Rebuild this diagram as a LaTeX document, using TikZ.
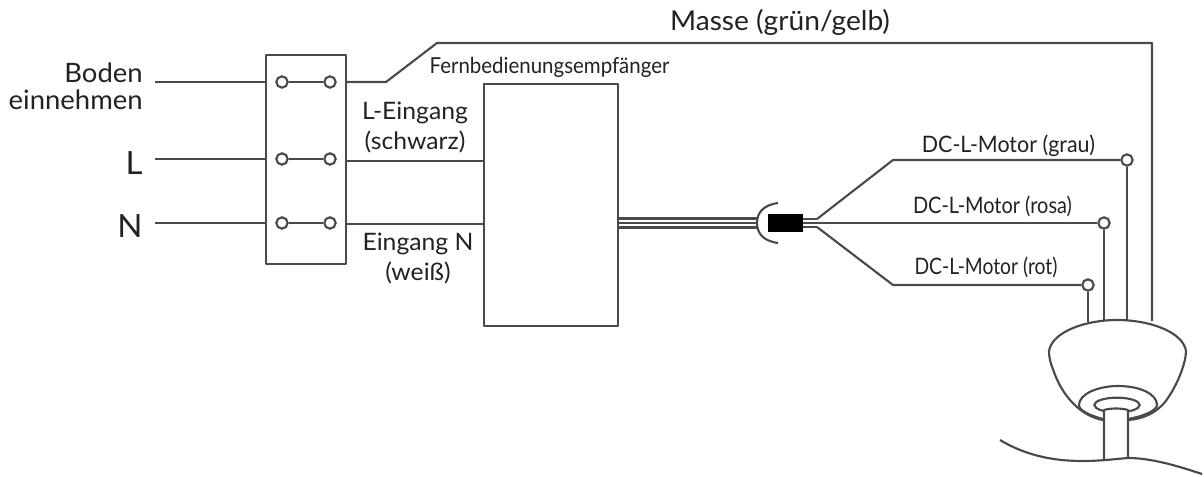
\documentclass[tikz,border=0pt]{standalone}
\usepackage{fontspec}
\usetikzlibrary{shapes.geometric}
\setmainfont{Lato}
\definecolor{wire}{HTML}{4A4A4A}
\definecolor{ink}{HTML}{222222}
\tikzset{
 wireline/.style={draw=wire,line width=1.6pt,line join=round},
 thin wire/.style={draw=wire,line width=1.7pt},
 term/.style={circle,draw=wire,line width=1.6pt,fill=white,minimum size=8.5pt,inner sep=0pt},
 lab/.style={text=ink,inner sep=0pt,align=center},
 bigtxt/.style={lab,font=\fontsize{20.5}{24}\selectfont,xscale=1.03},
 midtxt/.style={lab,font=\fontsize{18}{22.5}\selectfont,xscale=1.03},
 dctxt/.style={lab,font=\fontsize{17}{20}\selectfont,xscale=.945},
}
\begin{document}
\begin{tikzpicture}[x=.75pt,y=-.75pt]
\useasboundingbox (0,0) rectangle (1204,476);
\fill[white] (0,0) rectangle (1204,476);
% terminal block
\node[wireline,minimum width=60pt,minimum height=156.75pt,inner sep=0pt,outer sep=0pt,anchor=north west] (block) at (266,55) {};
\node[wireline,minimum width=100.5pt,minimum height=181.5pt,inner sep=0pt,outer sep=0pt,anchor=north west] (recv) at (484,84) {};
\foreach \n/\y in {a/82,b/159,c/223}{
 \node[term] (\n1) at (282,\y) {};
 \node[term] (\n2) at (330,\y) {};
 \draw[wireline] (\n1) -- (\n2);
}
\coordinate (ai) at (155,82); \coordinate (bi) at (155,159); \coordinate (ci) at (155,223);
\draw[wireline] (ai) -- (block.west |- ai);
\draw[wireline] (bi) -- (block.west |- bi);
\draw[wireline] (ci) -- (block.west |- ci);
% earth
\coordinate (e1) at (386,82); \coordinate (e2) at (437,43); \coordinate (e3) at (1152,43); \coordinate (e4) at (1152,321);
\draw[wireline] (block.east |- e1) -- (e1) -- (e2) -- (e3) -- (e4);
% inputs
\coordinate (l1) at (346,161); \coordinate (n1w) at (346,224);
\draw[wireline] (l1) -- (recv.west |- l1);
\draw[wireline] (n1w) -- (recv.west |- n1w);
% cable
\node[fill=black,minimum width=26pt,minimum height=13.5pt,inner sep=0pt,outer sep=0pt] (plug) at (785.5,223) {};
\foreach \y in {218.5,223,227.5}{
 \coordinate (p) at (757,\y);
 \draw[thin wire] (recv.east |- p) -- (p);
}
\draw[wireline] (778,203) .. controls (763,205) and (757,213) .. (757,223) .. controls (757,233) and (763,241) .. (778,243);
\coordinate (t1) at (817,219); \coordinate (t2) at (817,227);
\draw[thin wire] (plug.east |- t1) -- (t1);
\draw[thin wire] (plug.east |- t2) -- (t2);
% motor terminals
\node[term] (g) at (1127,160) {};
\node[term] (r) at (1104,223) {};
\node[term] (o) at (1088,285) {};
\coordinate (k1) at (893,160); \coordinate (k2) at (893,285);
\draw[wireline] (t1) -- (k1) -- (g);
\draw[wireline] (plug.east) -- (r);
\draw[wireline] (t2) -- (k2) -- (o);
\coordinate (gd) at (1127,321); \coordinate (rd) at (1104,321); \coordinate (od) at (1088,322);
\draw[wireline] (g) -- (gd);
\draw[wireline] (r) -- (rd);
\draw[wireline] (o) -- (od);
% fan
\draw[wireline,fill=white] (1103,420) .. controls (1080,416) and (1062,395) .. (1054,372)
 .. controls (1050,362) and (1049,357) .. (1049,351)
 .. controls (1052,332) and (1085,320) .. (1117,320)
 .. controls (1150,320) and (1183,332) .. (1186,351)
 .. controls (1186,362) and (1178,385) .. (1165,402)
 .. controls (1155,414) and (1142,419) .. (1128,420);
\draw[wireline] (1103,419) .. controls (1088,415) and (1079,410) .. (1079,405)
 .. controls (1079,394) and (1098,386) .. (1118,386)
 .. controls (1140,386) and (1157,394) .. (1157,405)
 .. controls (1157,410) and (1145,416) .. (1128,419);
\node[draw=wire,line width=1.6pt,ellipse,minimum width=34pt,minimum height=11pt,inner sep=0pt] (hub) at (1117,405) {};
\draw[wireline,fill=white] (1104,461) -- (1104,410) .. controls (1110,408) and (1122,408) .. (1128,410) -- (1128,459);
\draw[wireline] (1000,440) .. controls (1030,458) and (1060,461) .. (1083,461)
 .. controls (1100,461) and (1115,459) .. (1128,458)
 .. controls (1150,458) and (1175,465) .. (1202,474);
% labels
\node[bigtxt] (m) at (780,22) {Masse (grün/gelb)};
\node[lab,font=\fontsize{16.5}{20}\selectfont,xscale=.93] (f) at (549.5,67) {Fernbedienungsempfänger};
\node[bigtxt,anchor=east,align=right,font=\fontsize{20}{20}\selectfont] (boden) at (143,86) {Boden\\einnehmen};
\node[bigtxt,font=\fontsize{24}{28}\selectfont] (L) at (134,163) {L};
\node[bigtxt,font=\fontsize{24}{28}\selectfont] (N) at (130,226) {N};
\node[midtxt] (li) at (415,127) {L-Eingang\\(schwarz)};
\node[midtxt] (ni) at (418,258.5) {Eingang N\\(weiß)};
\node[dctxt] (d1) at (1008.5,146) {DC-L-Motor (grau)};
\node[dctxt,xscale=.93] (d2) at (992.5,206) {DC-L-Motor (rosa)};
\node[dctxt,xscale=.9] (d3) at (986,267) {DC-L-Motor (rot)};
\end{tikzpicture}
\end{document}
